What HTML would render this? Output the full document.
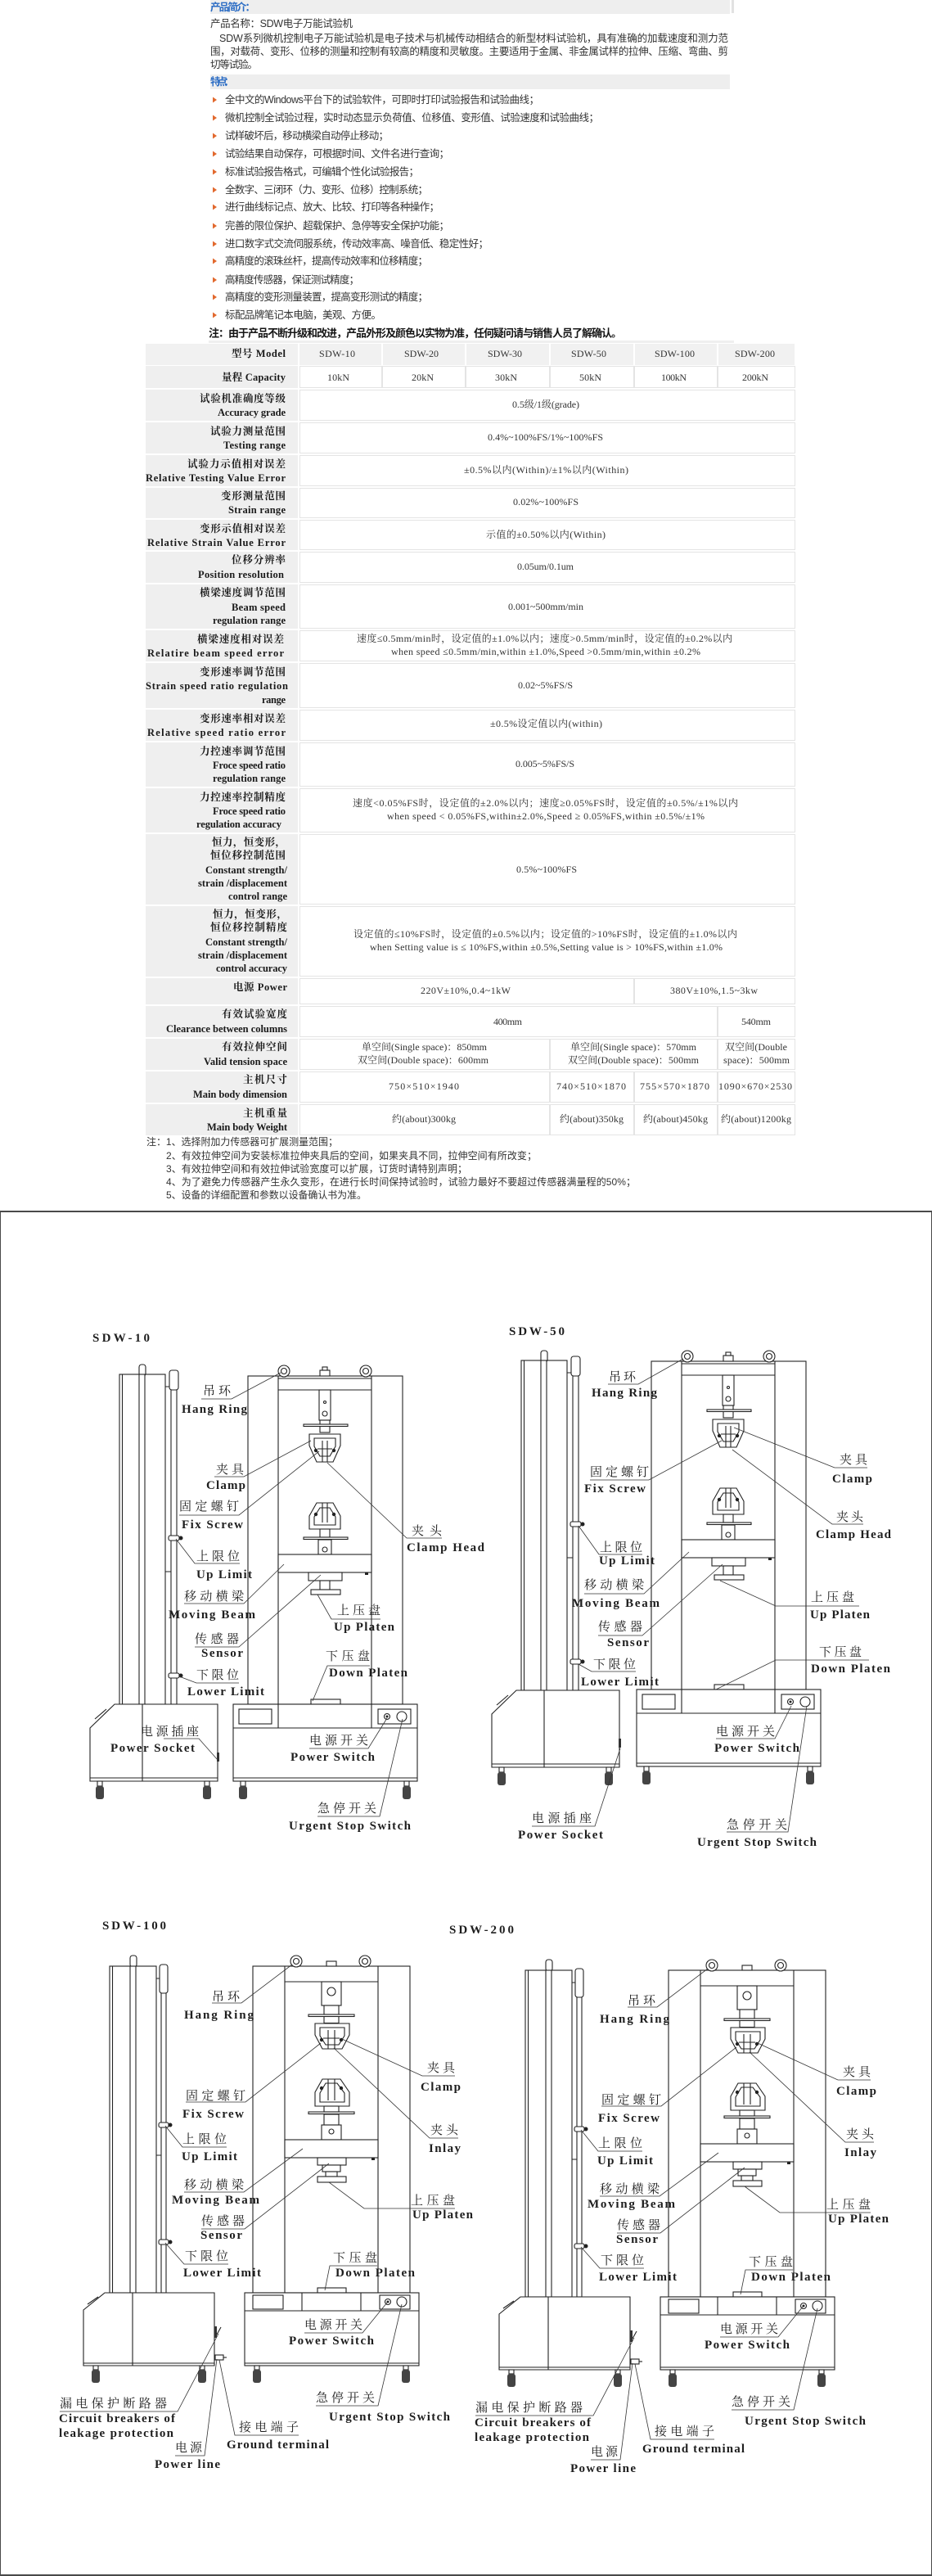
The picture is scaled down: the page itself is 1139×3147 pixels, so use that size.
<!DOCTYPE html>
<html>
<head>
<meta charset="utf-8">
<style>
html,body{margin:0;padding:0;background:#fff;}
body{width:1139px;height:3147px;overflow:hidden;}
svg{display:block;}
.t{font-family:"Liberation Sans","Noto Sans CJK SC",sans-serif;font-size:12.5px;fill:#333;dominant-baseline:central;}
.hb{font-weight:bold;fill:#2b6cc4;}
.nb{font-weight:bold;fill:#151515;font-size:13px;}
.tl{font-family:"Liberation Serif","Noto Serif CJK SC",serif;font-size:12.5px;font-weight:bold;fill:#1a1a1a;dominant-baseline:central;}
.tv{font-family:"Liberation Serif","Noto Serif CJK SC",serif;font-size:12px;fill:#333;dominant-baseline:central;}
.n{font-family:"Liberation Sans","Noto Sans CJK SC",sans-serif;font-size:12px;fill:#333;dominant-baseline:central;}
.d{font-family:"Liberation Serif","Noto Serif CJK SC",serif;font-size:15px;fill:#1e1e1e;dominant-baseline:central;}
.de{font-weight:bold;}
.f{fill:#fff;stroke:#222;stroke-width:1.1;}
.s{fill:none;stroke:#222;stroke-width:1.1;}
.k{fill:#222;}
.l{fill:none;stroke:#333;stroke-width:0.8;}
.ft{fill:#444;}
.lc{fill:#efefef;}
.hc{fill:#f1f1f1;}
.dc{fill:#fff;stroke:#e4e4e4;stroke-width:1;}
</style>
</head>
<body>
<svg width="1139" height="3147" viewBox="0 0 1139 3147" xmlns="http://www.w3.org/2000/svg">
<rect x="0" y="0" width="1139" height="3147" fill="#fff"/>

<!-- ===== Top intro ===== -->
<rect x="257" y="0" width="635" height="17" fill="#eeeeee"/>
<rect x="894" y="0" width="3" height="16" fill="#e2e2e2"/>
<text class="t hb" x="257" y="9" textLength="55">产品简介：</text>
<text class="t" x="257" y="29" textLength="174">产品名称：SDW电子万能试验机</text>
<text class="t" x="268" y="47" textLength="622">SDW系列微机控制电子万能试验机是电子技术与机械传动相结合的新型材料试验机，具有准确的加载速度和测力范</text>
<text class="t" x="257" y="63" textLength="633">围，对载荷、变形、位移的测量和控制有较高的精度和灵敏度。主要适用于金属、非金属试样的拉伸、压缩、弯曲、剪</text>
<text class="t" x="257" y="79" textLength="58">切等试验。</text>
<rect x="257" y="91" width="635" height="18" fill="#eeeeee"/>
<text class="t hb" x="257" y="100" textLength="29">特点：</text>

<g fill="#e2692e">
<polygon points="260,118.5 265,122 260,125.5"/>
<polygon points="260,140.5 265,144 260,147.5"/>
<polygon points="260,162.5 265,166 260,169.5"/>
<polygon points="260,184.5 265,188 260,191.5"/>
<polygon points="260,206.5 265,210 260,213.5"/>
<polygon points="260,228.5 265,232 260,235.5"/>
<polygon points="260,249.5 265,253 260,256.5"/>
<polygon points="260,272.5 265,276 260,279.5"/>
<polygon points="260,294.5 265,298 260,301.5"/>
<polygon points="260,315.5 265,319 260,322.5"/>
<polygon points="260,338.5 265,342 260,345.5"/>
<polygon points="260,359.5 265,363 260,366.5"/>
<polygon points="260,381.5 265,385 260,388.5"/>
</g>
<text class="t" x="275" y="122" textLength="384">全中文的Windows平台下的试验软件，可即时打印试验报告和试验曲线；</text>
<text class="t" x="275" y="144" textLength="457">微机控制全试验过程，实时动态显示负荷值、位移值、变形值、试验速度和试验曲线；</text>
<text class="t" x="275" y="166" textLength="200">试样破坏后，移动横梁自动停止移动；</text>
<text class="t" x="275" y="188" textLength="274">试验结果自动保存，可根据时间、文件名进行查询；</text>
<text class="t" x="275" y="210" textLength="237">标准试验报告格式，可编辑个性化试验报告；</text>
<text class="t" x="275" y="232" textLength="248">全数字、三闭环（力、变形、位移）控制系统；</text>
<text class="t" x="275" y="253" textLength="262">进行曲线标记点、放大、比较、打印等各种操作；</text>
<text class="t" x="275" y="276" textLength="274">完善的限位保护、超载保护、急停等安全保护功能；</text>
<text class="t" x="275" y="298" textLength="322">进口数字式交流伺服系统，传动效率高、噪音低、稳定性好；</text>
<text class="t" x="275" y="319" textLength="248">高精度的滚珠丝杆，提高传动效率和位移精度；</text>
<text class="t" x="275" y="342" textLength="164">高精度传感器，保证测试精度；</text>
<text class="t" x="275" y="363" textLength="248">高精度的变形测量装置，提高变形测试的精度；</text>
<text class="t" x="275" y="385" textLength="191">标配品牌笔记本电脑，美观、方便。</text>
<text class="t nb" x="255" y="407" textLength="505">注：由于产品不断升级和改进，产品外形及颜色以实物为准，任何疑问请与销售人员了解确认。</text>
<rect x="255" y="416" width="642" height="3" fill="#efefef"/>

<!-- ===== Table ===== -->
<!-- label column -->
<rect class="hc" x="178" y="420" width="186" height="26"/>
<rect class="lc" x="178" y="447" width="186" height="27"/>
<rect class="lc" x="178" y="476" width="186" height="38"/>
<rect class="lc" x="178" y="516" width="186" height="38"/>
<rect class="lc" x="178" y="556" width="186" height="38"/>
<rect class="lc" x="178" y="596" width="186" height="37"/>
<rect class="lc" x="178" y="635" width="186" height="37"/>
<rect class="lc" x="178" y="674" width="186" height="38"/>
<rect class="lc" x="178" y="714" width="186" height="54"/>
<rect class="lc" x="178" y="770" width="186" height="38"/>
<rect class="lc" x="178" y="810" width="186" height="55"/>
<rect class="lc" x="178" y="867" width="186" height="38"/>
<rect class="lc" x="178" y="907" width="186" height="54"/>
<rect class="lc" x="178" y="963" width="186" height="54"/>
<rect class="lc" x="178" y="1019" width="186" height="86"/>
<rect class="lc" x="178" y="1107" width="186" height="86"/>
<rect class="lc" x="178" y="1195" width="186" height="32"/>
<rect class="lc" x="178" y="1229" width="186" height="38"/>
<rect class="lc" x="178" y="1269" width="186" height="38"/>
<rect class="lc" x="178" y="1309" width="186" height="38"/>
<rect class="lc" x="178" y="1349" width="186" height="38"/>

<!-- header data cells -->
<rect class="hc" x="366" y="420" width="100" height="26"/>
<rect class="hc" x="468" y="420" width="100" height="26"/>
<rect class="hc" x="570" y="420" width="101" height="26"/>
<rect class="hc" x="673" y="420" width="101" height="26"/>
<rect class="hc" x="776" y="420" width="100" height="26"/>
<rect class="hc" x="878" y="420" width="93" height="26"/>
<!-- capacity -->
<rect class="dc" x="366.5" y="447.5" width="100" height="26"/>
<rect class="dc" x="467.5" y="447.5" width="101" height="26"/>
<rect class="dc" x="569.5" y="447.5" width="102" height="26"/>
<rect class="dc" x="672.5" y="447.5" width="102" height="26"/>
<rect class="dc" x="775.5" y="447.5" width="101" height="26"/>
<rect class="dc" x="877.5" y="447.5" width="94" height="26"/>
<!-- full rows -->
<rect class="dc" x="366.5" y="476.5" width="605" height="37"/>
<rect class="dc" x="366.5" y="516.5" width="605" height="37"/>
<rect class="dc" x="366.5" y="556.5" width="605" height="37"/>
<rect class="dc" x="366.5" y="596.5" width="605" height="36"/>
<rect class="dc" x="366.5" y="635.5" width="605" height="36"/>
<rect class="dc" x="366.5" y="674.5" width="605" height="37"/>
<rect class="dc" x="366.5" y="714.5" width="605" height="53"/>
<rect class="dc" x="366.5" y="770.5" width="605" height="37"/>
<rect class="dc" x="366.5" y="810.5" width="605" height="54"/>
<rect class="dc" x="366.5" y="867.5" width="605" height="37"/>
<rect class="dc" x="366.5" y="907.5" width="605" height="53"/>
<rect class="dc" x="366.5" y="963.5" width="605" height="53"/>
<rect class="dc" x="366.5" y="1019.5" width="605" height="85"/>
<rect class="dc" x="366.5" y="1107.5" width="605" height="85"/>
<!-- power -->
<rect class="dc" x="366.5" y="1195.5" width="408" height="31"/>
<rect class="dc" x="775.5" y="1195.5" width="196" height="31"/>
<!-- clearance -->
<rect class="dc" x="366.5" y="1229.5" width="510" height="37"/>
<rect class="dc" x="877.5" y="1229.5" width="94" height="37"/>
<!-- valid -->
<rect class="dc" x="366.5" y="1269.5" width="305" height="37"/>
<rect class="dc" x="672.5" y="1269.5" width="204" height="37"/>
<rect class="dc" x="877.5" y="1269.5" width="94" height="37"/>
<!-- dim -->
<rect class="dc" x="366.5" y="1309.5" width="305" height="37"/>
<rect class="dc" x="672.5" y="1309.5" width="102" height="37"/>
<rect class="dc" x="775.5" y="1309.5" width="101" height="37"/>
<rect class="dc" x="877.5" y="1309.5" width="94" height="37"/>
<!-- weight -->
<rect class="dc" x="366.5" y="1349.5" width="305" height="37"/>
<rect class="dc" x="672.5" y="1349.5" width="102" height="37"/>
<rect class="dc" x="775.5" y="1349.5" width="101" height="37"/>
<rect class="dc" x="877.5" y="1349.5" width="94" height="37"/>

<!-- labels -->
<text class="tl" x="283" y="432" textLength="66">型号 Model</text>
<text class="tl" x="271" y="461" textLength="78">量程 Capacity</text>
<text class="tl" x="244" y="487" textLength="105">试验机准确度等级</text>
<text class="tl" x="266" y="504" textLength="83">Accuracy grade</text>
<text class="tl" x="257" y="527" textLength="92">试验力测量范围</text>
<text class="tl" x="273" y="544" textLength="76">Testing range</text>
<text class="tl" x="229" y="567" textLength="120">试验力示值相对误差</text>
<text class="tl" x="178" y="584" textLength="171">Relative Testing Value Error</text>
<text class="tl" x="270" y="606" textLength="79">变形测量范围</text>
<text class="tl" x="279" y="623" textLength="70">Strain range</text>
<text class="tl" x="244" y="646" textLength="105">变形示值相对误差</text>
<text class="tl" x="180" y="663" textLength="169">Relative Strain Value Error</text>
<text class="tl" x="283" y="684" textLength="66">位移分辨率</text>
<text class="tl" x="242" y="702" textLength="105">Position resolution</text>
<text class="tl" x="244" y="724" textLength="105">横梁速度调节范围</text>
<text class="tl" x="283" y="742" textLength="66">Beam speed</text>
<text class="tl" x="260" y="758" textLength="89">regulation range</text>
<text class="tl" x="241" y="781" textLength="106">横梁速度相对误差</text>
<text class="tl" x="180" y="798" textLength="167">Relatire beam speed error</text>
<text class="tl" x="244" y="821" textLength="105">变形速率调节范围</text>
<text class="tl" x="178" y="838" textLength="174">Strain speed ratio regulation</text>
<text class="tl" x="320" y="855" textLength="29">range</text>
<text class="tl" x="244" y="878" textLength="105">变形速率相对误差</text>
<text class="tl" x="180" y="895" textLength="169">Relative speed ratio error</text>
<text class="tl" x="244" y="918" textLength="105">力控速率调节范围</text>
<text class="tl" x="260" y="935" textLength="89">Froce speed ratio</text>
<text class="tl" x="260" y="951" textLength="89">regulation range</text>
<text class="tl" x="244" y="974" textLength="105">力控速率控制精度</text>
<text class="tl" x="260" y="991" textLength="89">Froce speed ratio</text>
<text class="tl" x="240" y="1007" textLength="104">regulation accuracy</text>
<text class="tl" x="259" y="1029" textLength="90">恒力，恒变形，</text>
<text class="tl" x="257" y="1045" textLength="92">恒位移控制范围</text>
<text class="tl" x="251" y="1063" textLength="100">Constant strength/</text>
<text class="tl" x="242" y="1079" textLength="109">strain /displacement</text>
<text class="tl" x="279" y="1095" textLength="72">control range</text>
<text class="tl" x="260" y="1117" textLength="91">恒力，恒变形，</text>
<text class="tl" x="257" y="1133" textLength="94">恒位移控制精度</text>
<text class="tl" x="251" y="1151" textLength="100">Constant strength/</text>
<text class="tl" x="242" y="1167" textLength="109">strain /displacement</text>
<text class="tl" x="264" y="1183" textLength="87">control accuracy</text>
<text class="tl" x="285" y="1206" textLength="66">电源 Power</text>
<text class="tl" x="271" y="1239" textLength="80">有效试验宽度</text>
<text class="tl" x="203" y="1257" textLength="148">Clearance between columns</text>
<text class="tl" x="271" y="1279" textLength="80">有效拉伸空间</text>
<text class="tl" x="249" y="1297" textLength="102">Valid tension space</text>
<text class="tl" x="297" y="1319" textLength="54">主机尺寸</text>
<text class="tl" x="236" y="1337" textLength="115">Main body dimension</text>
<text class="tl" x="297" y="1360" textLength="54">主机重量</text>
<text class="tl" x="253" y="1377" textLength="98">Main body Weight</text>

<!-- values -->
<text class="tv" x="390" y="432" textLength="44">SDW-10</text>
<text class="tv" x="494" y="432" textLength="42">SDW-20</text>
<text class="tv" x="596" y="432" textLength="42">SDW-30</text>
<text class="tv" x="698" y="432" textLength="43">SDW-50</text>
<text class="tv" x="800" y="432" textLength="49">SDW-100</text>
<text class="tv" x="898" y="432" textLength="49">SDW-200</text>
<text class="tv" x="400" y="461" textLength="27">10kN</text>
<text class="tv" x="503" y="461" textLength="27">20kN</text>
<text class="tv" x="605" y="461" textLength="27">30kN</text>
<text class="tv" x="708" y="461" textLength="27">50kN</text>
<text class="tv" x="808" y="461" textLength="31">100kN</text>
<text class="tv" x="907" y="461" textLength="32">200kN</text>
<text class="tv" x="626" y="494" textLength="82">0.5级/1级(grade)</text>
<text class="tv" x="596" y="534" textLength="141">0.4%~100%FS/1%~100%FS</text>
<text class="tv" x="567" y="574" textLength="201">±0.5%以内(Within)/±1%以内(Within)</text>
<text class="tv" x="627" y="613" textLength="80">0.02%~100%FS</text>
<text class="tv" x="594" y="653" textLength="146">示值的±0.50%以内(Within)</text>
<text class="tv" x="632" y="692" textLength="69">0.05um/0.1um</text>
<text class="tv" x="621" y="741" textLength="92">0.001~500mm/min</text>
<text class="tv" x="436" y="780" textLength="459">速度≤0.5mm/min时，设定值的±1.0%以内；速度&gt;0.5mm/min时，设定值的±0.2%以内</text>
<text class="tv" x="478" y="796" textLength="378">when speed ≤0.5mm/min,within ±1.0%,Speed &gt;0.5mm/min,within ±0.2%</text>
<text class="tv" x="633" y="837" textLength="67">0.02~5%FS/S</text>
<text class="tv" x="599" y="884" textLength="137">±0.5%设定值以内(within)</text>
<text class="tv" x="630" y="933" textLength="72">0.005~5%FS/S</text>
<text class="tv" x="431" y="981" textLength="471">速度&lt;0.05%FS时，设定值的±2.0%以内；速度≥0.05%FS时，设定值的±0.5%/±1%以内</text>
<text class="tv" x="473" y="997" textLength="388">when speed &lt; 0.05%FS,within±2.0%,Speed ≥ 0.05%FS,within ±0.5%/±1%</text>
<text class="tv" x="631" y="1062" textLength="74">0.5%~100%FS</text>
<text class="tv" x="432" y="1141" textLength="469">设定值的≤10%FS时，设定值的±0.5%以内；设定值的&gt;10%FS时，设定值的±1.0%以内</text>
<text class="tv" x="452" y="1157" textLength="431">when Setting value is ≤ 10%FS,within ±0.5%,Setting value is &gt; 10%FS,within ±1.0%</text>
<text class="tv" x="514" y="1210" textLength="110">220V±10%,0.4~1kW</text>
<text class="tv" x="819" y="1210" textLength="107">380V±10%,1.5~3kw</text>
<text class="tv" x="603" y="1248" textLength="35">400mm</text>
<text class="tv" x="906" y="1248" textLength="36">540mm</text>
<text class="tv" x="442" y="1279" textLength="153">单空间(Single space)：850mm</text>
<text class="tv" x="437" y="1295" textLength="160">双空间(Double space)：600mm</text>
<text class="tv" x="697" y="1279" textLength="154">单空间(Single space)：570mm</text>
<text class="tv" x="694" y="1295" textLength="160">双空间(Double space)：500mm</text>
<text class="tv" x="886" y="1279" textLength="76">双空间(Double</text>
<text class="tv" x="884" y="1295" textLength="81">space)：500mm</text>
<text class="tv" x="475" y="1327" textLength="86">750×510×1940</text>
<text class="tv" x="680" y="1327" textLength="85">740×510×1870</text>
<text class="tv" x="782" y="1327" textLength="85">755×570×1870</text>
<text class="tv" x="878" y="1327" textLength="90">1090×670×2530</text>
<text class="tv" x="479" y="1367" textLength="78">约(about)300kg</text>
<text class="tv" x="684" y="1367" textLength="78">约(about)350kg</text>
<text class="tv" x="786" y="1367" textLength="79">约(about)450kg</text>
<text class="tv" x="881" y="1367" textLength="86">约(about)1200kg</text>

<!-- notes -->
<text class="n" x="179" y="1395" textLength="234">注：1、选择附加力传感器可扩展测量范围；</text>
<text class="n" x="203" y="1412" textLength="453">2、有效拉伸空间为安装标准拉伸夹具后的空间，如果夹具不同，拉伸空间有所改变；</text>
<text class="n" x="203" y="1428" textLength="368">3、有效拉伸空间和有效拉伸试验宽度可以扩展，订货时请特别声明；</text>
<text class="n" x="203" y="1444" textLength="574">4、为了避免力传感器产生永久变形，在进行长时间保持试验时，试验力最好不要超过传感器满量程的50%；</text>
<text class="n" x="203" y="1460" textLength="245">5、设备的详细配置和参数以设备确认书为准。</text>

<!-- ===== Diagram frame ===== -->
<rect x="0" y="1479" width="1139" height="2" fill="#4a4a4a"/>
<rect x="0" y="3145" width="1139" height="2" fill="#4a4a4a"/>
<rect x="0" y="1479" width="1" height="1668" fill="#4a4a4a"/>
<rect x="1138" y="1479" width="1" height="1668" fill="#4a4a4a"/>

<!-- ===== SDW-10 machine shapes ===== -->
<g id="side10">
<rect class="f" x="146" y="1679" width="56" height="403"/>
<path class="s" d="M149.5 1679V2082"/>
<rect class="f" x="170" y="1667" width="8" height="14" rx="3"/>
<rect class="f" x="170" y="1679" width="7" height="403"/>
<rect class="f" x="209" y="1690" width="7" height="392"/>
<rect class="f" x="207" y="1674" width="11" height="24" rx="3"/>
<path class="s" d="M202 1694H207M202 1920H209"/>
<rect class="f" x="206" y="1876" width="13" height="6" rx="2"/><circle class="k" cx="221" cy="1879" r="2.5"/>
<rect class="f" x="206" y="2044" width="13" height="6" rx="2"/><circle class="k" cx="221" cy="2047" r="2.5"/>
<polygon class="f" points="110,2111 140,2082 266,2082 266,2176 110,2176"/>
<path class="s" d="M174 2082V2176M110 2172H266M116 2100L130 2088"/>
<rect x="265" y="2141" width="3" height="11" fill="#333"/>
<rect class="f" x="119" y="2176" width="6" height="6"/><rect class="ft" x="117" y="2182" width="10" height="16" rx="3"/>
<rect class="f" x="250" y="2176" width="6" height="6"/><rect class="ft" x="248" y="2182" width="10" height="16" rx="3"/>
</g>
<g id="front10">
<rect class="f" x="303" y="1681" width="189" height="401"/>
<path class="s" d="M340 1681V2082M454 1681V2082M340 1684H454M340 1698H454"/>
<circle class="f" cx="347" cy="1675" r="7"/><circle class="s" cx="347" cy="1675" r="3.5"/>
<circle class="f" cx="447" cy="1675" r="7"/><circle class="s" cx="447" cy="1675" r="3.5"/>
<rect class="f" x="391" y="1674" width="12" height="7"/><rect class="f" x="394" y="1670" width="6" height="4"/>
<rect class="f" x="390" y="1698" width="14" height="37"/>
<circle class="s" cx="397" cy="1713" r="1.5"/><circle class="s" cx="397" cy="1727" r="3"/>
<rect class="f" x="391" y="1735" width="12" height="15"/>
<rect class="f" x="371" y="1740" width="54" height="2.5"/>
<polygon class="f" points="378,1752 416,1752 416,1766 407,1786 387,1786 378,1766"/>
<polygon class="s" points="384,1757 410,1757 410,1767 403,1779 391,1779 384,1767"/>
<path class="s" d="M394 1760V1786M400 1760V1786M388 1770H406"/>
<circle class="k" cx="386" cy="1772" r="2.2"/><circle class="k" cx="408" cy="1772" r="2.2"/>
<polygon class="f" points="387,1836 407,1836 416,1852 416,1868 378,1868 378,1852"/>
<polygon class="s" points="391,1842 403,1842 410,1853 410,1863 384,1863 384,1853"/>
<path class="s" d="M394 1836V1860M400 1836V1860"/>
<circle class="k" cx="386" cy="1850" r="2.2"/><circle class="k" cx="408" cy="1850" r="2.2"/>
<rect class="f" x="391" y="1868" width="12" height="10"/>
<rect class="f" x="371" y="1878" width="54" height="2.5"/>
<rect class="f" x="389" y="1881" width="16" height="18"/>
<circle class="s" cx="397" cy="1893" r="3"/>
<rect class="f" x="340" y="1899" width="114" height="22"/>
<rect class="k" x="446" y="1921" width="4" height="3"/>
<rect class="f" x="377" y="1921" width="41" height="10"/>
<rect class="f" x="391" y="1931" width="12" height="11"/>
<rect class="f" x="380" y="1942" width="36" height="6"/>
<rect class="f" x="380" y="2076" width="36" height="6"/>
<rect class="f" x="285" y="2082" width="225" height="94"/>
<path class="s" d="M285 2111H510M340 2082V2111M454 2082V2111M285 2172H510"/>
<rect class="s" x="292" y="2088" width="40" height="18"/>
<rect class="s" x="462" y="2088" width="40" height="18"/>
<circle class="f" cx="473" cy="2097" r="3.5"/><circle class="k" cx="473" cy="2097" r="1.5"/>
<circle class="f" cx="491" cy="2097" r="6"/>
<rect class="f" x="294" y="2176" width="6" height="6"/><rect class="ft" x="292" y="2182" width="10" height="16" rx="3"/>
<rect class="f" x="494" y="2176" width="6" height="6"/><rect class="ft" x="492" y="2182" width="10" height="16" rx="3"/>
</g>

<!-- SDW-10 labels -->
<text class="d de" x="113" y="1635" textLength="70">SDW-10</text>
<g class="l">
<path d="M246 1709H283L343 1677"/>
<path d="M262 1804H298L380 1760"/>
<path d="M219 1851H292L390 1773"/>
<path d="M540 1879H497L400 1787"/>
<path d="M293 1910H238L215 1880"/>
<path d="M225 1959H298L347 1911"/>
<path d="M238 2012H292L392 1924"/>
<path d="M292 2056H240L219 2048"/>
<path d="M465 1978H405L388 1948"/>
<path d="M452 2035H400L382 2078"/>
<path d="M200 2124H243L266 2150"/>
<path d="M378 2136H450L473 2099"/>
<path d="M388 2219H464L492 2100"/>
</g>
<text class="d" x="248" y="1700" textLength="34">吊 环</text>
<text class="d de" x="222" y="1722" textLength="80">Hang Ring</text>
<text class="d" x="264" y="1796" textLength="34">夹 具</text>
<text class="d de" x="252" y="1815" textLength="48">Clamp</text>
<text class="d" x="219" y="1841" textLength="73">固定螺钉</text>
<text class="d de" x="222" y="1863" textLength="75">Fix Screw</text>
<text class="d" x="503" y="1871" textLength="37">夹 头</text>
<text class="d de" x="497" y="1891" textLength="95">Clamp Head</text>
<text class="d" x="240" y="1902" textLength="53">上限位</text>
<text class="d de" x="240" y="1924" textLength="68">Up Limit</text>
<text class="d" x="225" y="1951" textLength="73">移动横梁</text>
<text class="d de" x="206" y="1973" textLength="106">Moving Beam</text>
<text class="d" x="238" y="2003" textLength="54">传感器</text>
<text class="d de" x="246" y="2020" textLength="51">Sensor</text>
<text class="d" x="240" y="2047" textLength="52">下限位</text>
<text class="d de" x="229" y="2067" textLength="94">Lower Limit</text>
<text class="d" x="412" y="1968" textLength="53">上压盘</text>
<text class="d de" x="408" y="1988" textLength="74">Up Platen</text>
<text class="d" x="398" y="2024" textLength="54">下压盘</text>
<text class="d de" x="402" y="2044" textLength="96">Down Platen</text>
<text class="d" x="172" y="2116" textLength="71">电源插座</text>
<text class="d de" x="135" y="2136" textLength="103">Power Socket</text>
<text class="d" x="378" y="2127" textLength="72">电源开关</text>
<text class="d de" x="355" y="2147" textLength="103">Power Switch</text>
<text class="d" x="388" y="2210" textLength="72">急停开关</text>
<text class="d de" x="353" y="2231" textLength="149">Urgent Stop Switch</text>

<!-- ===== SDW-50 ===== -->
<use href="#side10" transform="translate(491,-17)"/>
<use href="#front10" transform="translate(493,-18)"/>
<text class="d de" x="622" y="1627" textLength="68">SDW-50</text>
<g class="l">
<path d="M743 1691H780L835 1660"/>
<path d="M721 1808H793L882 1760"/>
<path d="M1060 1793H1020L897 1744"/>
<path d="M1055 1862H1017L895 1771"/>
<path d="M785 1899H732L707 1864"/>
<path d="M714 1947H787L842 1896"/>
<path d="M731 1998H785L883 1911"/>
<path d="M777 2042H723L707 2033"/>
<path d="M1050 1962H948L880 1931"/>
<path d="M1062 2028H948L875 2064"/>
<path d="M875 2124H947L967 2084"/>
<path d="M650 2231H727L758 2136"/>
<path d="M888 2238H963L986 2084"/>
</g>
<text class="d" x="744" y="1683" textLength="33">吊 环</text>
<text class="d de" x="723" y="1702" textLength="80">Hang Ring</text>
<text class="d" x="721" y="1799" textLength="72">固定螺钉</text>
<text class="d de" x="714" y="1819" textLength="75">Fix Screw</text>
<text class="d" x="1026" y="1784" textLength="34">夹 具</text>
<text class="d de" x="1017" y="1807" textLength="49">Clamp</text>
<text class="d" x="1022" y="1854" textLength="33">夹 头</text>
<text class="d de" x="997" y="1875" textLength="92">Clamp Head</text>
<text class="d" x="733" y="1891" textLength="52">上限位</text>
<text class="d de" x="732" y="1907" textLength="68">Up Limit</text>
<text class="d" x="714" y="1937" textLength="73">移动横梁</text>
<text class="d de" x="699" y="1959" textLength="107">Moving Beam</text>
<text class="d" x="731" y="1988" textLength="54">传感器</text>
<text class="d de" x="742" y="2007" textLength="51">Sensor</text>
<text class="d" x="725" y="2034" textLength="52">下限位</text>
<text class="d de" x="710" y="2055" textLength="95">Lower Limit</text>
<text class="d" x="991" y="1952" textLength="53">上压盘</text>
<text class="d de" x="990" y="1973" textLength="73">Up Platen</text>
<text class="d" x="1001" y="2019" textLength="52">下压盘</text>
<text class="d de" x="991" y="2039" textLength="97">Down Platen</text>
<text class="d" x="875" y="2116" textLength="72">电源开关</text>
<text class="d de" x="873" y="2136" textLength="104">Power Switch</text>
<text class="d" x="650" y="2222" textLength="73">电源插座</text>
<text class="d de" x="633" y="2242" textLength="104">Power Socket</text>
<text class="d" x="888" y="2230" textLength="74">急停开关</text>
<text class="d de" x="852" y="2251" textLength="146">Urgent Stop Switch</text>

<!-- ===== SDW-100 machine shapes ===== -->
<g id="m100">
<rect class="f" x="134" y="2402" width="57" height="399"/>
<path class="s" d="M137.5 2402V2801"/>
<rect class="f" x="159" y="2389" width="8" height="14" rx="3"/>
<rect class="f" x="159" y="2402" width="7" height="399"/>
<rect class="f" x="197" y="2415" width="6" height="386"/>
<rect class="f" x="195" y="2400" width="10" height="35" rx="3"/>
<path class="s" d="M191 2417H195M191 2633H197"/>
<rect class="f" x="194" y="2593" width="12" height="6" rx="2"/><circle class="k" cx="208" cy="2596" r="2.5"/>
<rect class="f" x="194" y="2736" width="12" height="6" rx="2"/><circle class="k" cx="208" cy="2739" r="2.5"/>
<polygon class="f" points="102,2822 128,2801 262,2801 262,2890 102,2890"/>
<path class="s" d="M162 2801V2890M102 2887H262M107 2815L120 2806"/>
<rect x="262" y="2842" width="3" height="14" fill="#333"/>
<path class="s" d="M265 2852L270 2843"/>
<rect class="f" x="263" y="2877" width="10" height="6"/><path class="s" d="M273 2880H277"/>
<rect class="f" x="114" y="2890" width="6" height="5"/><rect class="ft" x="112" y="2895" width="10" height="16" rx="3"/>
<rect class="f" x="244" y="2890" width="6" height="5"/><rect class="ft" x="242" y="2895" width="10" height="16" rx="3"/>

<rect class="f" x="309" y="2402" width="192" height="399"/>
<path class="s" d="M348 2402V2801M462 2402V2801M348 2421H462"/>
<circle class="f" cx="362" cy="2396" r="7"/><circle class="s" cx="362" cy="2396" r="3.5"/>
<circle class="f" cx="446" cy="2396" r="7"/><circle class="s" cx="446" cy="2396" r="3.5"/>
<rect class="f" x="399" y="2396" width="12" height="6"/>
<rect class="f" x="393" y="2421" width="24" height="29"/><circle class="s" cx="405" cy="2433" r="5"/>
<rect class="f" x="396" y="2450" width="18" height="11"/>
<rect class="f" x="377" y="2461" width="56" height="2.5"/>
<rect class="f" x="396" y="2463.5" width="18" height="8"/>
<polygon class="f" points="385,2472 427,2472 427,2486 418,2503 394,2503 385,2486"/>
<polygon class="s" points="391,2477 421,2477 421,2487 414,2498 398,2498 391,2487"/>
<path class="s" d="M401 2480V2503M409 2480V2503M395 2490H415"/>
<circle class="k" cx="393" cy="2492" r="2.2"/><circle class="k" cx="417" cy="2492" r="2.2"/>
<polygon class="f" points="394,2540 416,2540 427,2556 427,2573 385,2573 385,2556"/>
<polygon class="s" points="398,2545 412,2545 421,2557 421,2568 391,2568 391,2557"/>
<path class="s" d="M401 2540V2566M409 2540V2566"/>
<circle class="k" cx="393" cy="2551" r="2.2"/><circle class="k" cx="417" cy="2551" r="2.2"/>
<rect class="f" x="396" y="2573" width="18" height="7"/>
<rect class="f" x="377" y="2580" width="56" height="2.5"/>
<rect class="f" x="396" y="2583" width="18" height="13"/>
<rect class="f" x="393" y="2596" width="24" height="18"/><circle class="s" cx="405" cy="2604" r="3"/>
<rect class="f" x="348" y="2614" width="114" height="22"/>
<rect class="k" x="454" y="2636" width="4" height="3"/>
<rect class="f" x="388" y="2636" width="35" height="9"/>
<rect class="f" x="394" y="2645" width="22" height="8"/>
<rect class="f" x="398" y="2653" width="14" height="6"/>
<rect class="f" x="388" y="2659" width="35" height="7"/>
<rect class="f" x="388" y="2795" width="35" height="6"/>
<rect class="f" x="299" y="2801" width="213" height="89"/>
<path class="s" d="M299 2823H512M369 2801V2823M441 2801V2823M299 2887H512"/>
<rect class="s" x="309" y="2804" width="37" height="17"/>
<rect class="s" x="464" y="2804" width="37" height="17"/>
<circle class="f" cx="474" cy="2812" r="3.5"/><circle class="k" cx="474" cy="2812" r="1.5"/>
<circle class="f" cx="491" cy="2812" r="6"/>
<rect class="f" x="311" y="2890" width="6" height="5"/><rect class="ft" x="309" y="2895" width="10" height="16" rx="3"/>
<rect class="f" x="493" y="2890" width="6" height="5"/><rect class="ft" x="491" y="2895" width="10" height="16" rx="3"/>
</g>

<!-- SDW-100 labels -->
<text class="d de" x="125" y="2353" textLength="78">SDW-100</text>
<g class="l" id="l100">
<path d="M259 2447H295L357 2400"/>
<path d="M556 2536H516L418 2491"/>
<path d="M227 2568H300L392 2496"/>
<path d="M560 2612H525L408 2502"/>
<path d="M277 2623H223L202 2597"/>
<path d="M225 2678H298L370 2625"/>
<path d="M246 2723H299L402 2643"/>
<path d="M279 2766H225L202 2740"/>
<path d="M556 2698H445L402 2666"/>
<path d="M461 2768H403L397 2798"/>
<path d="M372 2850H443L473 2813"/>
<path d="M386 2939H462L491 2815"/>
<path d="M73 2946H217L267 2851"/>
<path d="M214 3000H250L265 2882"/>
<path d="M365 2975H287L268 2883"/>
</g>
<text class="d" x="259" y="2440" textLength="34">吊 环</text>
<text class="d de" x="225" y="2462" textLength="85">Hang Ring</text>
<text class="d" x="522" y="2527" textLength="34">夹 具</text>
<text class="d de" x="514" y="2550" textLength="49">Clamp</text>
<text class="d" x="227" y="2561" textLength="73">固定螺钉</text>
<text class="d de" x="223" y="2583" textLength="75">Fix Screw</text>
<text class="d" x="526" y="2603" textLength="34">夹 头</text>
<text class="d de" x="524" y="2625" textLength="39">Inlay</text>
<text class="d" x="223" y="2614" textLength="54">上限位</text>
<text class="d de" x="222" y="2635" textLength="68">Up Limit</text>
<text class="d" x="225" y="2670" textLength="73">移动横梁</text>
<text class="d de" x="210" y="2688" textLength="107">Moving Beam</text>
<text class="d" x="246" y="2714" textLength="53">传感器</text>
<text class="d de" x="245" y="2731" textLength="51">Sensor</text>
<text class="d" x="226" y="2757" textLength="53">下限位</text>
<text class="d de" x="224" y="2777" textLength="95">Lower Limit</text>
<text class="d" x="502" y="2689" textLength="54">上压盘</text>
<text class="d de" x="504" y="2706" textLength="74">Up Platen</text>
<text class="d" x="407" y="2759" textLength="54">下压盘</text>
<text class="d de" x="410" y="2777" textLength="97">Down Platen</text>
<text class="d" x="372" y="2841" textLength="71">电源开关</text>
<text class="d de" x="353" y="2860" textLength="104">Power Switch</text>
<text class="d" x="386" y="2930" textLength="72">急停开关</text>
<text class="d de" x="402" y="2953" textLength="148">Urgent Stop Switch</text>
<text class="d" x="73" y="2937" textLength="131">漏电保护断路器</text>
<text class="d de" x="72" y="2955" textLength="142">Circuit breakers of</text>
<text class="d de" x="72" y="2973" textLength="140">leakage protection</text>
<text class="d" x="214" y="2991" textLength="33">电源</text>
<text class="d de" x="189" y="3011" textLength="80">Power line</text>
<text class="d" x="292" y="2966" textLength="73">接电端子</text>
<text class="d de" x="277" y="2987" textLength="125">Ground terminal</text>

<!-- ===== SDW-200 ===== -->
<use href="#m100" transform="translate(508,5)"/>
<use href="#l100" transform="translate(508,5)"/>
<text class="d de" x="549" y="2358" textLength="79">SDW-200</text>
<g transform="translate(508,5)">
<text class="d" x="259" y="2440" textLength="34">吊 环</text>
<text class="d de" x="225" y="2462" textLength="85">Hang Ring</text>
<text class="d" x="522" y="2527" textLength="34">夹 具</text>
<text class="d de" x="514" y="2550" textLength="49">Clamp</text>
<text class="d" x="227" y="2561" textLength="73">固定螺钉</text>
<text class="d de" x="223" y="2583" textLength="75">Fix Screw</text>
<text class="d" x="526" y="2603" textLength="34">夹 头</text>
<text class="d de" x="524" y="2625" textLength="39">Inlay</text>
<text class="d" x="223" y="2614" textLength="54">上限位</text>
<text class="d de" x="222" y="2635" textLength="68">Up Limit</text>
<text class="d" x="225" y="2670" textLength="73">移动横梁</text>
<text class="d de" x="210" y="2688" textLength="107">Moving Beam</text>
<text class="d" x="246" y="2714" textLength="53">传感器</text>
<text class="d de" x="245" y="2731" textLength="51">Sensor</text>
<text class="d" x="226" y="2757" textLength="53">下限位</text>
<text class="d de" x="224" y="2777" textLength="95">Lower Limit</text>
<text class="d" x="502" y="2689" textLength="54">上压盘</text>
<text class="d de" x="504" y="2706" textLength="74">Up Platen</text>
<text class="d" x="407" y="2759" textLength="54">下压盘</text>
<text class="d de" x="410" y="2777" textLength="97">Down Platen</text>
<text class="d" x="372" y="2841" textLength="71">电源开关</text>
<text class="d de" x="353" y="2860" textLength="104">Power Switch</text>
<text class="d" x="386" y="2930" textLength="72">急停开关</text>
<text class="d de" x="402" y="2953" textLength="148">Urgent Stop Switch</text>
<text class="d" x="73" y="2937" textLength="131">漏电保护断路器</text>
<text class="d de" x="72" y="2955" textLength="142">Circuit breakers of</text>
<text class="d de" x="72" y="2973" textLength="140">leakage protection</text>
<text class="d" x="214" y="2991" textLength="33">电源</text>
<text class="d de" x="189" y="3011" textLength="80">Power line</text>
<text class="d" x="292" y="2966" textLength="73">接电端子</text>
<text class="d de" x="277" y="2987" textLength="125">Ground terminal</text>
</g>
</svg>
</body>
</html>
